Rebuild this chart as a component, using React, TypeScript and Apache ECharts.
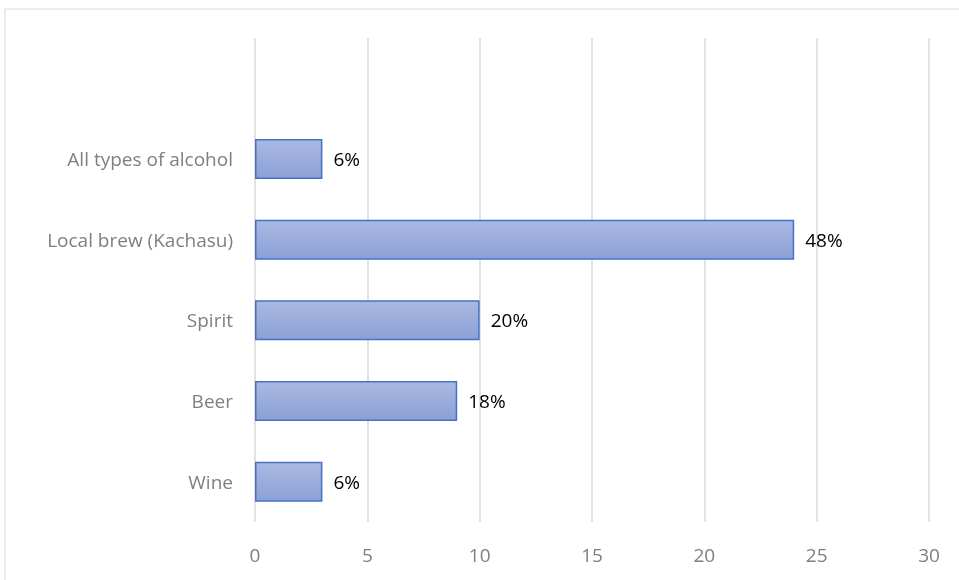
import React, { useEffect, useRef } from "react";
import * as echarts from "echarts";

const categories = ["Wine", "Beer", "Spirit", "Local brew (Kachasu)", "All types of alcohol", ""];
const values: (number | null)[] = [3, 9, 10, 24, 3, null];
const percentLabels = ["6%", "18%", "20%", "48%", "6%", ""];
const xTicks = { min: 0, max: 30, interval: 5 };

export default function App() {
  const ref = useRef<HTMLDivElement>(null);
  useEffect(() => {
    if (!ref.current) return;
    const chart = echarts.init(ref.current, undefined, { renderer: "svg" });
    const font = "'Open Sans', Lato, sans-serif";
    chart.setOption({
      animation: false,
      textStyle: { fontFamily: font },
      graphic: [
        {
          type: "rect",
          shape: { x: 5, y: 9, width: 960, height: 600 },
          style: { fill: "none", stroke: "#d9d9d9", lineWidth: 1 },
          silent: true,
        },
      ],
      grid: { left: 255, right: 30, top: 38, bottom: 58, containLabel: false },
      xAxis: {
        type: "value",
        min: xTicks.min,
        max: xTicks.max,
        interval: xTicks.interval,
        axisLine: { show: false },
        axisTick: { show: false },
        splitLine: { show: true, lineStyle: { color: "#d9d9d9", width: 1.5 } },
        axisLabel: { color: "#7f7f7f", fontSize: 19, margin: 23, fontFamily: font },
      },
      yAxis: {
        type: "category",
        data: categories,
        axisLine: { show: false },
        axisTick: { show: false },
        axisLabel: { color: "#7f7f7f", fontSize: 19, margin: 22, fontFamily: font },
      },
      series: [
        {
          type: "bar",
          data: values,
          barWidth: 40,
          itemStyle: {
            color: new echarts.graphic.LinearGradient(0, 0, 0, 1, [
              { offset: 0, color: "#aab9e2" },
              { offset: 1, color: "#8ba0d6" },
            ]),
            borderColor: "#4472c4",
            borderWidth: 1.5,
          },
          label: {
            show: true,
            position: "right",
            distance: 11,
            color: "#000000",
            fontSize: 19,
            fontFamily: font,
            formatter: (p: any) => percentLabels[p.dataIndex],
          },
        },
      ],
    });
    return () => chart.dispose();
  }, []);
  return <div ref={ref} style={{ position: "fixed", left: 0, top: 0, width: 959, height: 580 }} />;
}
